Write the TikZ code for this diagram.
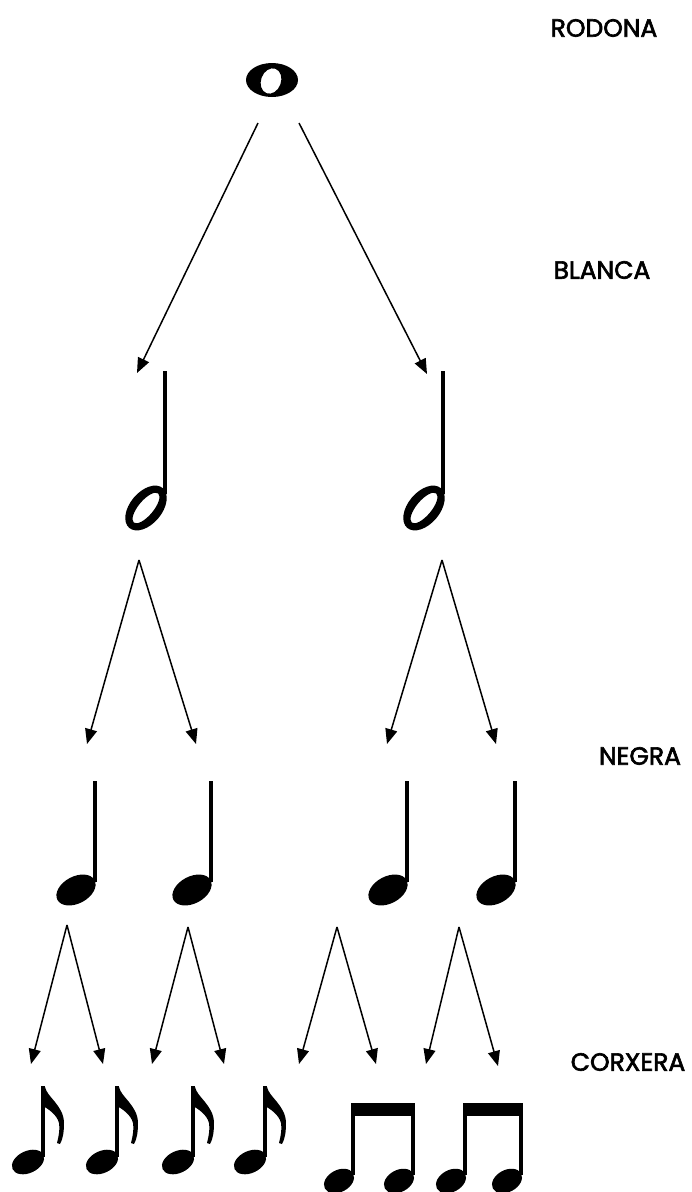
\documentclass[tikz,border=0pt]{standalone}
\usepackage{fontspec}
\setmainfont{Poppins}
\newfontfamily\lblfont{Poppins}[FakeBold=2.5]
\usetikzlibrary{arrows.meta}
\tikzset{
  link/.style={line width=1.5pt,-{Triangle[length=15pt,width=12pt]}},
  lbl/.style={font=\fontsize{25}{29}\lblfont, inner sep=0pt},
  notestem/.style={line width=4.5pt},
  quarternote/.pic={
    \draw[notestem] (0,-1) -- (0,100);
    \fill[rotate around={28:(-19,108)}] (-19,108) ellipse [x radius=21, y radius=13.5];
  },
  halfnote/.pic={
    \draw[notestem] (0,-1) -- (0,122);
    \fill[even odd rule,rotate around={50:(-19,136)}] (-19,136) ellipse [x radius=26, y radius=16]
         (-19,136) ellipse [x radius=19, y radius=7.5];
  },
  eighthnote/.pic={
    \draw[notestem] (0,-1) -- (0,70);
    \fill[rotate around={25:(-15,75)}] (-15,75) ellipse [x radius=17, y radius=11];
    \fill (-2,0) -- (2,0) .. controls (4,10) and (20,18) .. (21,35)
          .. controls (21,45) and (20,52) .. (17,57) -- (14,56)
          .. controls (16,48) and (17,42) .. (16,36)
          .. controls (14,28) and (6,22) .. (-2,18) -- cycle;
  },
  beamhalf/.pic={
    \draw[notestem] (0,0) -- (0,72);
    \fill[rotate around={28:(-14,78)}] (-14,78) ellipse [x radius=16, y radius=11];
  }
}
\begin{document}
\begin{tikzpicture}[x=1pt,y=-1pt]
\useasboundingbox[fill=white] (0,0) rectangle (692,1192);

% labels
\node[lbl] (rodona) at (604,28) {RODONA};
\node[lbl] (blanca) at (602,270) {BLANCA};
\node[lbl] (negra) at (640,756) {NEGRA};
\node[lbl] (corxera) at (628,1062) {CORXERA};

% whole note
\fill[even odd rule] (272,80) ellipse [x radius=26, y radius=17]
  [rotate around={-20:(271,81)}] (271,81) ellipse [x radius=10, y radius=13];
\coordinate (w) at (272,80);

% half notes
\pic at (165,372) {halfnote};
\pic at (443,372) {halfnote};

% quarter notes
\pic at (95,782) {quarternote};
\pic at (211,782) {quarternote};
\pic at (407,782) {quarternote};
\pic at (515,782) {quarternote};

% eighth notes
\pic at (43,1087) {eighthnote};
\pic at (117,1087) {eighthnote};
\pic at (193,1087) {eighthnote};
\pic at (265,1087) {eighthnote};

% beamed eighths
\pic at (353,1103) {beamhalf};
\pic at (413,1103) {beamhalf};
\fill (350.75,1103) rectangle (415.25,1116);
\pic at (465,1103) {beamhalf};
\pic at (521,1103) {beamhalf};
\fill (462.75,1103) rectangle (523.25,1116);

% arrow coordinates
\coordinate (wl) at (258,123);
\coordinate (wr) at (299,123);
\coordinate (hl) at (137,373);
\coordinate (hr) at (427,374);
\coordinate (ha) at (139,560);
\coordinate (hb) at (442,560);
\coordinate (q1) at (87,744);
\coordinate (q2) at (196,744);
\coordinate (q3) at (387,744);
\coordinate (q4) at (496,744);
\coordinate (qa) at (67,925);
\coordinate (qb) at (188,927);
\coordinate (qc) at (337,927);
\coordinate (qd) at (459,927);
\coordinate (e1) at (31,1064);
\coordinate (e2) at (103,1064);
\coordinate (e3) at (152,1064);
\coordinate (e4) at (224,1064);
\coordinate (e5) at (299,1064);
\coordinate (e6) at (376,1064);
\coordinate (e7) at (426,1064);
\coordinate (e8) at (498,1066);

\draw[link] (wl) -- (hl);
\draw[link] (wr) -- (hr);
\draw[link] (ha) -- (q1);
\draw[link] (ha) -- (q2);
\draw[link] (hb) -- (q3);
\draw[link] (hb) -- (q4);
\draw[link] (qa) -- (e1);
\draw[link] (qa) -- (e2);
\draw[link] (qb) -- (e3);
\draw[link] (qb) -- (e4);
\draw[link] (qc) -- (e5);
\draw[link] (qc) -- (e6);
\draw[link] (qd) -- (e7);
\draw[link] (qd) -- (e8);
\end{tikzpicture}
\end{document}
